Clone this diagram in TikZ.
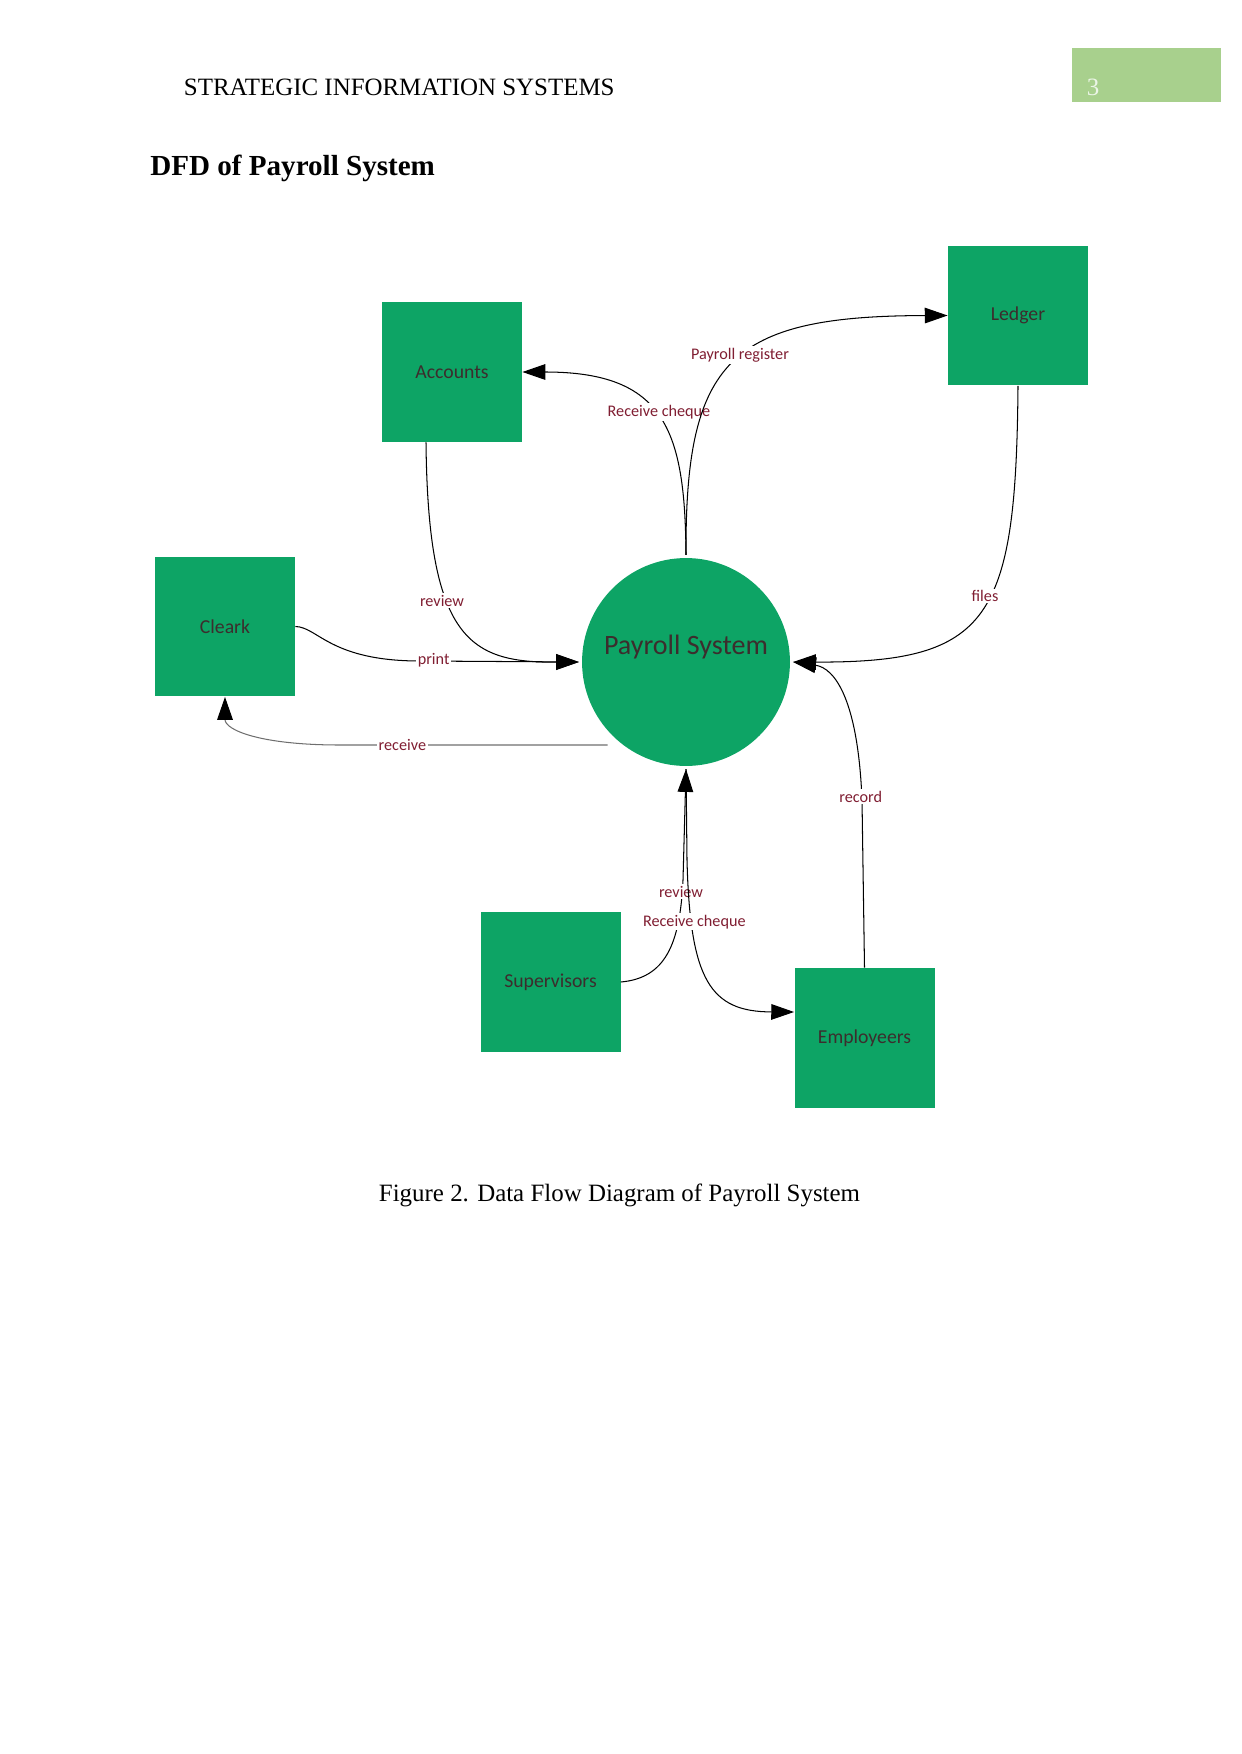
\documentclass[tikz,border=0pt]{standalone}
\usepackage{fontspec}
\setmainfont{Liberation Serif}
\newfontfamily\carlito{Carlito}
\usetikzlibrary{arrows.meta,calc}
\definecolor{boxgreen}{RGB}{13,164,101}
\definecolor{hdrgreen}{RGB}{168,208,141}
\definecolor{lblred}{RGB}{128,30,50}
\definecolor{boxtxt}{RGB}{60,45,45}
\definecolor{rcvgray}{RGB}{110,110,110}
\begin{document}
\begin{tikzpicture}[x=0.016922cm,y=-0.016922cm,
  entity/.style={rectangle,fill=boxgreen,minimum size=67.4pt,inner sep=0pt,
    font=\carlito\fontsize{9.5}{11}\selectfont,text=boxtxt},
  proc/.style={circle,fill=boxgreen,minimum size=100.1pt,inner sep=0pt,outer sep=1.5pt,
    font=\carlito\fontsize{13.5}{16}\selectfont,text=boxtxt},
  flow/.style={draw,line width=0.5pt,-{Triangle[length=11pt,width=7.5pt,color=black]}},
  lbl/.style={fill=white,inner sep=0.8pt,text=lblred,font=\carlito\fontsize{7.8}{9}\selectfont},
  hdr/.style={inner sep=0pt,font=\fontsize{12}{14}\selectfont}
]
\useasboundingbox (0,0) rectangle (1241,1754);
% header
\node[hdr,anchor=west] (head) at (183.5,87) {STRATEGIC INFORMATION SYSTEMS};
\fill[hdrgreen] (1072,48) rectangle (1221,102);
\node[hdr,text={rgb,255:red,235;green,245;blue,230}] (pg) at (1093,87) {3};
\node[inner sep=0pt,anchor=west,font=\bfseries\fontsize{14}{16}\selectfont] (title) at (150,168) {DFD of Payroll System};
% nodes
\node[entity] (acc) at (452,372) {Accounts};
\node[entity] (led) at (1018,315.5) {Ledger};
\node[entity] (clk) at (225,626.5) {Cleark};
\node[entity] (sup) at (550.5,982) {Supervisors};
\node[entity] (emp) at (864.5,1038) {Employeers};
\node[proc] (ps) at (686,662) {\raisebox{17pt}{Payroll System}};
% flows
\draw[flow] (ps.north) .. controls (685,430) and (665,372) .. (acc.east);
\node[lbl] (l1) at (659,412) {Receive cheque};
\draw[flow] (ps.north) .. controls (685,360) and (730,316) .. (led.west);
\node[lbl] (l2) at (740,355) {Payroll register};
\draw[flow] ($(acc.south)+(-26,0)$) .. controls (428,640) and (470,662.7) .. (ps.west);
\node[lbl] (l3) at (442,600.7) {review};
\draw[flow] (clk.east) .. controls (318,627) and (330,661) .. (420,661) -- (ps.west);
\node[lbl] (l4) at (433.6,660.7) {print};
\coordinate (rcvstart) at (607.5,745);
\draw[flow,draw=rcvgray] (rcvstart) -- (340,745) .. controls (260,745) and (225,730) .. (clk.south);
\node[lbl] (l5) at (402.4,745) {receive};
\draw[flow] (led.south) .. controls (1016,620) and (990,662.7) .. (ps.east);
\node[lbl] (l6) at (985,596) {files};
\draw[flow] (emp.north) -- (862,800) .. controls (858,700) and (835,668) .. (ps.east);
\node[lbl] (l7) at (860.7,796.7) {record};
\draw[flow] (sup.east) .. controls (665,978) and (680,945) .. (683,880) -- (ps.south);
\node[lbl] (l8) at (681,891.7) {review};
\draw[flow] (ps.south) -- (687,860) .. controls (690,980) and (710,1011.7) .. ($(emp.west)+(0,-26)$);
\node[lbl] (l9) at (694.3,921.7) {Receive cheque};
% caption
\node[hdr] (cap) at (619.5,1195) {Figure 2. Data Flow Diagram of Payroll System};
\end{tikzpicture}
\end{document}
